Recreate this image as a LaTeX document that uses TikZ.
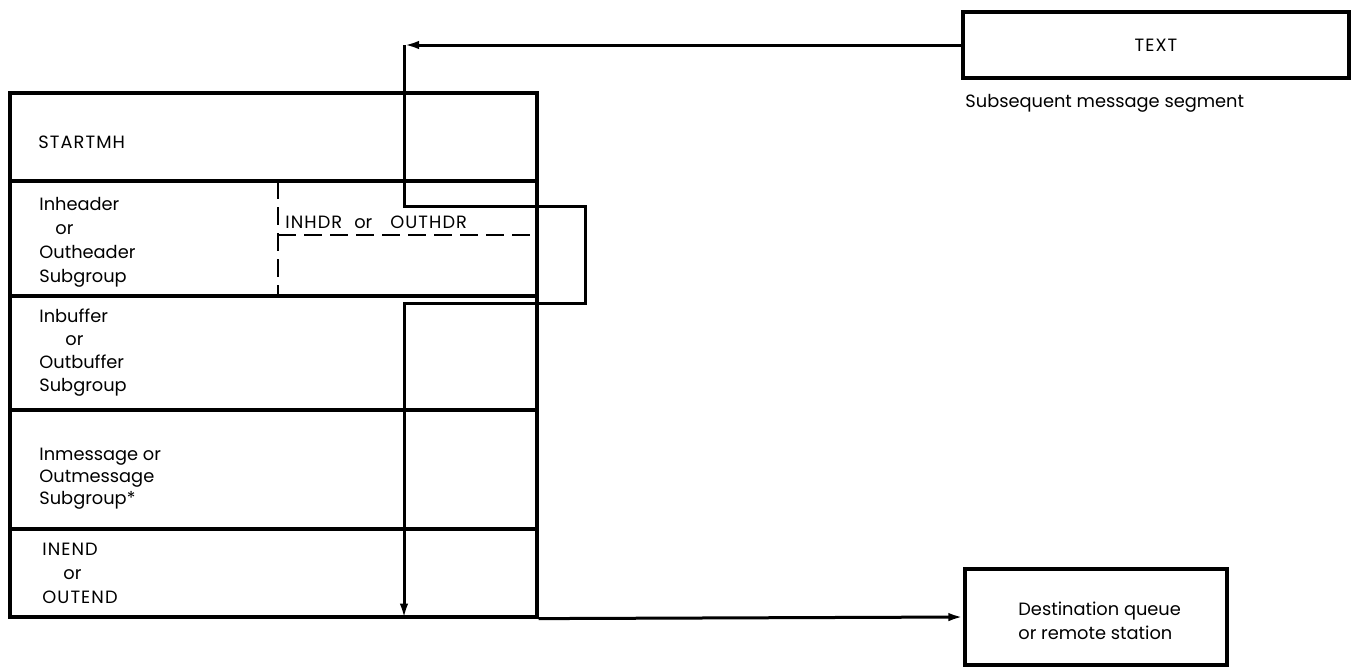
\documentclass[tikz,border=0pt]{standalone}
\usepackage{fontspec}
\setmainfont{Poppins}
\newfontfamily\capsfont[LetterSpace=6]{Poppins}
\usetikzlibrary{arrows.meta}
\begin{document}
\begin{tikzpicture}[x=0.5pt,y=-0.5pt,
  box/.style={draw, line width=1.6pt, inner sep=0pt},
  conn/.style={line width=1.5pt},
  arr/.style={conn, -{Latex[length=7.5pt,width=4.2pt]}},
  dsh/.style={line width=1.4pt, dash pattern=on 9pt off 4pt},
  lbl/.style={font=\fontsize{8.9}{11}\selectfont, inner sep=0pt, anchor=base west},
  caps/.style={lbl, font=\fontsize{8.9}{11}\selectfont\capsfont},
  ]
\useasboundingbox (0,0) rectangle (1354,666);

% left stack
\node[box, minimum width=263.5pt, minimum height=44pt]   (row1) at (273.5,137) {};
\node[box, minimum width=263.5pt, minimum height=57.5pt] (row2) at (273.5,238.5) {};
\node[box, minimum width=263.5pt, minimum height=57pt]   (row3) at (273.5,353) {};
\node[box, minimum width=263.5pt, minimum height=59.5pt] (row4) at (273.5,469.5) {};
\node[box, minimum width=263.5pt, minimum height=44pt]   (row5) at (273.5,573) {};

% dashed partition in header row
\draw[dsh] (278,181) -- (278,296);
\draw[dsh] (278,235) -- (537,235);

% right boxes
\node[box, minimum width=193pt, minimum height=33pt, font=\fontsize{8.9}{11}\selectfont\capsfont] (textbox) at (1156,45) {TEXT};
\node[box, minimum width=131pt, minimum height=48pt] (dest) at (1096,617) {};

% labels
\node[caps] (t1)  at (38,148) {STARTMH};
\node[lbl] (t2a) at (39,210) {Inheader};
\node[lbl] (t2b) at (55,234) {or};
\node[lbl] (t2c) at (39,258) {Outheader};
\node[lbl] (t2d) at (39,282) {Subgroup};
\node[lbl] (t3a) at (39,322) {Inbuffer};
\node[lbl] (t3b) at (65,345) {or};
\node[lbl] (t3c) at (39,368) {Outbuffer};
\node[lbl] (t3d) at (39,391) {Subgroup};
\node[lbl] (t4a) at (39,460) {Inmessage or};
\node[lbl] (t4b) at (39,482) {Outmessage};
\node[lbl] (t4c) at (39,504) {Subgroup*};
\node[caps] (t5a) at (42,555) {INEND};
\node[lbl] (t5b) at (63,579) {or};
\node[caps] (t5c) at (42,603) {OUTEND};
\node[caps] (hdr) at (285,228) {INHDR\hspace{6pt}{\fontspec{Poppins}or}\hspace{9pt}OUTHDR};
\node[lbl] (subs) at (965,107) {Subsequent message segment};
\node[lbl] (d1) at (1018,615) {Destination queue};
\node[lbl] (d2) at (1018,639) {or remote station};

% connectors
\coordinate (vx) at (404,0);
\coordinate (c1) at (textbox.west -| vx);
\coordinate (k1) at (404,206);
\coordinate (k2) at (585,206);
\coordinate (k3) at (585,303);
\coordinate (k4) at (404,303);
\coordinate (c2) at (row5.south -| vx);
\draw[arr] (textbox.west) -- (c1);
\draw[arr] (c1) -- (k1) -- (k2) -- (k3) -- (k4) -- (c2);
\draw[arr] (row5.south east) -- (dest.west);
\end{tikzpicture}
\end{document}
